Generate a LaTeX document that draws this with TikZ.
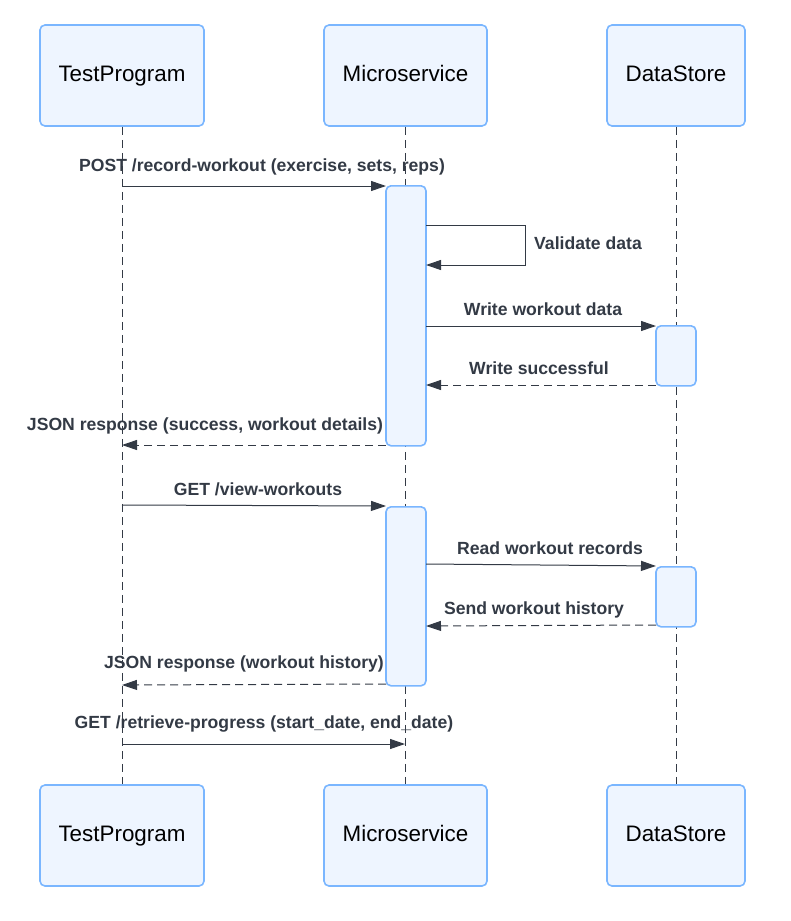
\documentclass[tikz,border=0pt]{standalone}
\usepackage{fontspec}
\setmainfont{Liberation Sans}
\usetikzlibrary{arrows.meta}
\definecolor{boxfill}{HTML}{EEF5FF}
\definecolor{boxline}{HTML}{7AB6FF}
\definecolor{ink}{HTML}{333A45}
\tikzset{
  actor/.style={draw=boxline, fill=boxfill, line width=1.6pt, rounded corners=5pt,
    minimum width=#1, minimum height=101pt, inner sep=0pt, text height=16pt, text depth=4pt,
    font=\fontsize{22.4}{26}\selectfont},
  act/.style={draw=boxline, fill=boxfill, line width=1.6pt, rounded corners=5pt,
    minimum width=40pt, inner sep=0pt, anchor=north},
  life/.style={draw=ink, line width=0.9pt, dash pattern=on 8pt off 5pt},
  msg/.style={draw=ink, line width=1pt, -{Triangle[length=15pt,width=10pt]}},
  ret/.style={msg, dash pattern=on 8pt off 5pt},
  lbl/.style={text=ink, font=\bfseries\fontsize{17.6}{20}\selectfont, inner sep=0pt,
    text height=14pt, text depth=2pt},
}
\begin{document}
\begin{tikzpicture}[x=1pt,y=-1pt]
\useasboundingbox (0,0) rectangle (791,921);
% actors
\node[actor=164pt] (tp) at (122,75.5) {TestProgram};
\node[actor=163pt] (ms) at (405.5,75.5) {Microservice};
\node[actor=138pt] (ds) at (676,75.5) {DataStore};
\node[actor=164pt] (tpb) at (122,835.5) {TestProgram};
\node[actor=163pt] (msb) at (405.5,835.5) {Microservice};
\node[actor=138pt] (dsb) at (676,835.5) {DataStore};
% lifelines
\draw[life] (tp.south) -- (tpb.north);
\draw[life] (ms.south) -- (msb.north);
\draw[life] (ds.south) -- (dsb.north);
% activations
\node[act, minimum height=260pt] (a1) at (406,185) {};
\node[act, minimum height=179pt] (a2) at (406,506) {};
\node[act, minimum height=60pt] (d1) at (676,325) {};
\node[act, minimum height=60pt] (d2) at (676,566) {};
% coordinates
\coordinate (p1s) at (122,186); \coordinate (p1e) at (386,186);
\coordinate (v1) at (426,225); \coordinate (v2) at (525,225);
\coordinate (v3) at (525,265); \coordinate (v4) at (426,265);
\coordinate (w1s) at (426,326); \coordinate (w1e) at (656,326);
\coordinate (w2s) at (656,385); \coordinate (w2e) at (426,385);
\coordinate (j1s) at (386,445); \coordinate (j1e) at (122,445);
\coordinate (g1s) at (122,505); \coordinate (g1e) at (386,506);
\coordinate (r1s) at (426,564); \coordinate (r1e) at (656,566);
\coordinate (s1s) at (656,625); \coordinate (s1e) at (426,626);
\coordinate (j2s) at (386,684); \coordinate (j2e) at (122,685);
\coordinate (g2s) at (122,744); \coordinate (g2e) at (405,744);
% messages
\draw[msg] (p1s) -- (p1e);
\draw[msg] (v1) -- (v2) -- (v3) -- (v4);
\draw[msg] (w1s) -- (w1e);
\draw[ret] (w2s) -- (w2e);
\draw[ret] (j1s) -- (j1e);
\draw[msg] (g1s) -- (g1e);
\draw[msg] (r1s) -- (r1e);
\draw[ret] (s1s) -- (s1e);
\draw[ret] (j2s) -- (j2e);
\draw[msg] (g2s) -- (g2e);
% labels
\node[lbl] (l1) at (262,165) {POST /record-workout (exercise, sets, reps)};
\node[lbl, anchor=west] (l2) at (534,243) {Validate data};
\node[lbl] (l3) at (543,309) {Write workout data};
\node[lbl] (l4) at (539,368) {Write successful};
\node[lbl] (l5) at (205,424) {JSON response (success, workout details)};
\node[lbl] (l6) at (258,489) {GET /view-workouts};
\node[lbl] (l7) at (550,548) {Read workout records};
\node[lbl] (l8) at (534,608) {Send workout history};
\node[lbl] (l9) at (244,662) {JSON response (workout history)};
\node[lbl] (l10) at (264,722) {GET /retrieve-progress (start\_date, end\_date)};
\end{tikzpicture}
\end{document}
